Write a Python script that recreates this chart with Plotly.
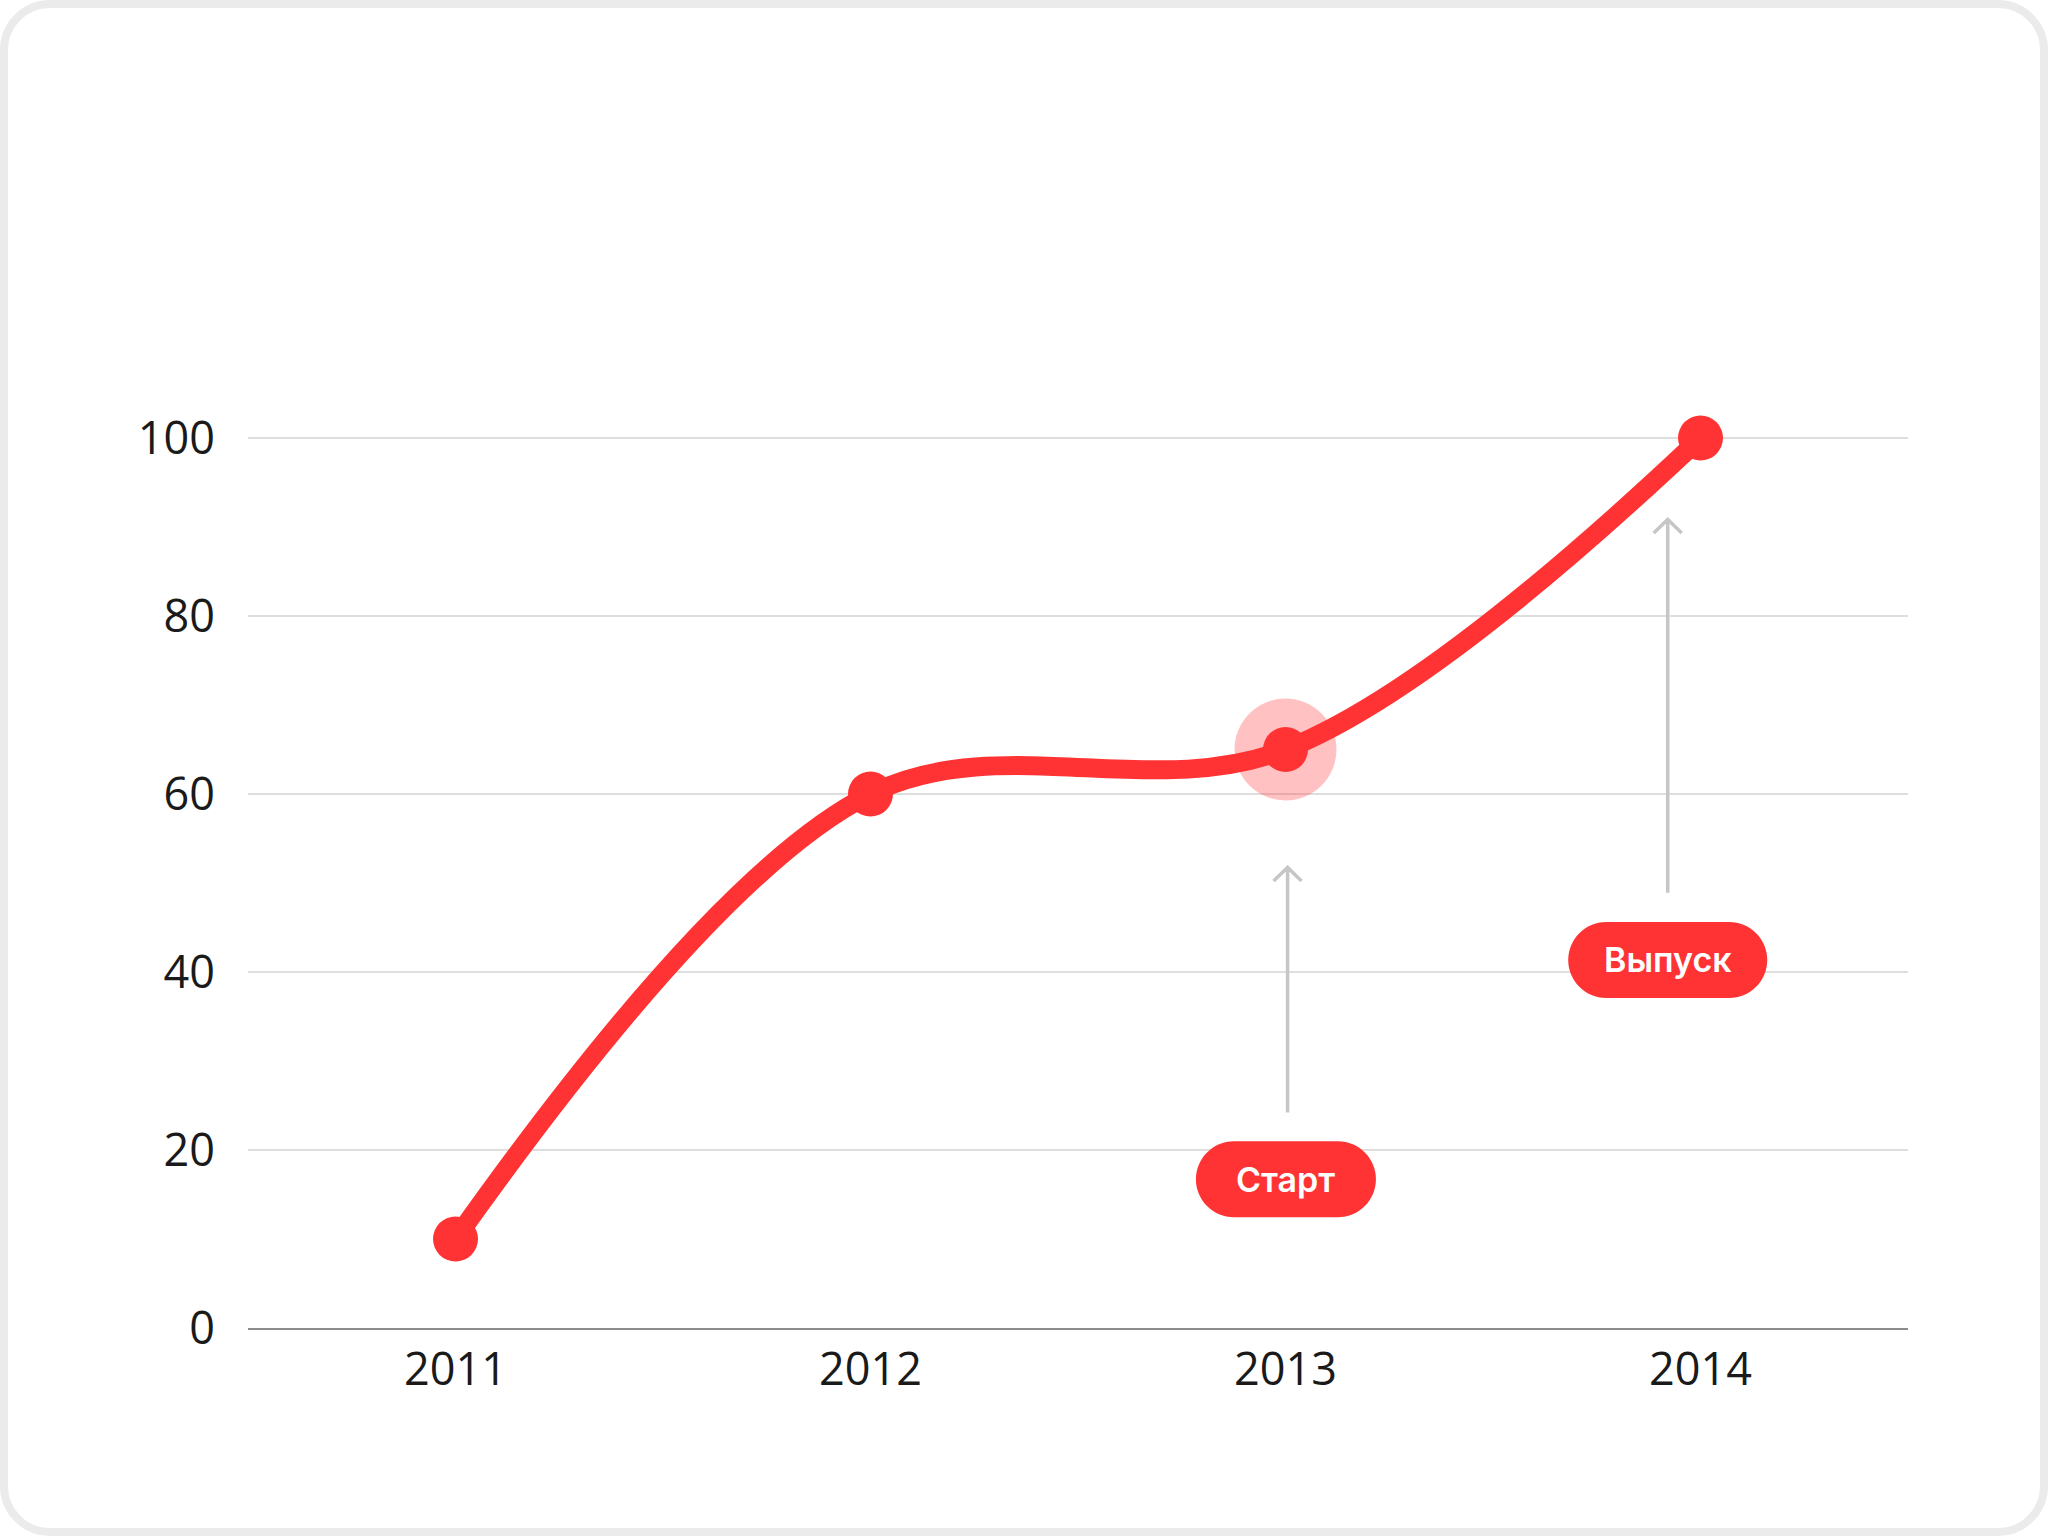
import plotly.graph_objects as go

# ---- data ----
years = ["2011", "2012", "2013", "2014"]
values = [10, 60, 65, 100]
y_ticks = [0, 20, 40, 60, 80, 100]
highlight_year = "2013"
highlight_value = 65
label_texts = ["Старт", "Выпуск"]

# ---- style / layout constants ----
W, H = 2048, 1536
ML, MR, MT, MB = 248, 140, 260, 208
RED = "#FF3333"
GRAY_ARROW = "#c6c6c6"

fig = go.Figure()

# halo under the line
fig.add_trace(go.Scatter(
    x=[highlight_year], y=[highlight_value], mode="markers",
    marker=dict(size=102, color="rgba(255,51,51,0.30)", line=dict(width=0)),
    hoverinfo="skip", cliponaxis=False, showlegend=False))

fig.add_trace(go.Scatter(
    x=years, y=values, mode="lines+markers",
    line=dict(color=RED, width=19, shape="spline", smoothing=1),
    marker=dict(size=45, color=RED, line=dict(width=0)),
    cliponaxis=False, showlegend=False))


def stadium(w, h):
    a = w / 2.0
    r = h / 2.0
    s = a - r
    k = 0.5523 * r
    return (f"M {-s},{-r} L {s},{-r} C {s + k},{-r} {a},{-k} {a},0 "
            f"C {a},{k} {s + k},{r} {s},{r} L {-s},{r} "
            f"C {-s - k},{r} {-a},{k} {-a},0 C {-a},{-k} {-s - k},{-r} {-s},{-r} Z")


def rounded_rect_px(x0, y0, x1, y1, rad):
    # page pixel coords (y down) -> offsets from plot bottom-left (y up)
    def p(X, Y):
        return f"{X - ML},{(H - MB) - Y}"
    k = 0.5523 * rad
    return (f"M {p(x0 + rad, y0)} L {p(x1 - rad, y0)} "
            f"C {p(x1 - rad + k, y0)} {p(x1, y0 + rad - k)} {p(x1, y0 + rad)} "
            f"L {p(x1, y1 - rad)} "
            f"C {p(x1, y1 - rad + k)} {p(x1 - rad + k, y1)} {p(x1 - rad, y1)} "
            f"L {p(x0 + rad, y1)} "
            f"C {p(x0 + rad - k, y1)} {p(x0, y1 - rad + k)} {p(x0, y1 - rad)} "
            f"L {p(x0, y0 + rad)} "
            f"C {p(x0, y0 + rad - k)} {p(x0 + rad - k, y0)} {p(x0 + rad, y0)} Z")


shapes = []
# card border
shapes.append(dict(type="path", xref="paper", yref="paper",
                   xsizemode="pixel", ysizemode="pixel", xanchor=0, yanchor=0,
                   path=rounded_rect_px(4, 4, W - 4, H - 4, 46),
                   line=dict(color="#ebebeb", width=8), fillcolor="rgba(0,0,0,0)",
                   layer="above"))

# arrows: (x index, tail y, tip y)
arrows = [(2.005, 24.2, 51.8), (2.921, 48.9, 90.9)]
for ax_, y_tail, y_tip in arrows:
    shapes.append(dict(type="line", xref="x", yref="y", x0=ax_, x1=ax_,
                       y0=y_tail, y1=y_tip, line=dict(color=GRAY_ARROW, width=3.5)))
    shapes.append(dict(type="path", xref="x", yref="y",
                       xsizemode="pixel", ysizemode="pixel", xanchor=ax_, yanchor=y_tip,
                       path="M -14,-14 L 0,-0.5 L 14,-14",
                       line=dict(color=GRAY_ARROW, width=3.5), fillcolor="rgba(0,0,0,0)"))

# pills: (x index, y center, width)
pills = [(2.001, 16.7, 180), (2.921, 41.35, 199)]
annotations = []
for (px_, py_, pw), txt in zip(pills, label_texts):
    shapes.append(dict(type="path", xref="x", yref="y",
                       xsizemode="pixel", ysizemode="pixel", xanchor=px_, yanchor=py_,
                       path=stadium(pw, 76), fillcolor=RED, line=dict(width=0)))
    annotations.append(dict(x=px_, y=py_, xref="x", yref="y", text=txt, showarrow=False,
                            font=dict(family="Inter", size=34, color="white", weight=600),
                            xanchor="center", yanchor="middle"))

fig.update_layout(
    width=W, height=H,
    margin=dict(l=ML, r=MR, t=MT, b=MB, pad=0),
    paper_bgcolor="white", plot_bgcolor="white",
    shapes=shapes, annotations=annotations,
    showlegend=False,
    xaxis=dict(type="category", categoryorder="array", categoryarray=years,
               range=[-0.5, 3.5], showgrid=False, zeroline=False,
               showline=True, linecolor="#8c8c8c", linewidth=2, ticks="",
               tickfont=dict(family="Open Sans", size=45, color="#1a1a1a"),
               ticklabelstandoff=1, fixedrange=True),
    yaxis=dict(range=[0, 120], tickmode="array", tickvals=y_ticks,
               showgrid=True, gridcolor="#dedede", gridwidth=2, zeroline=False,
               showline=False, ticks="",
               tickfont=dict(family="Open Sans", size=45, color="#1a1a1a"),
               ticklabelstandoff=32, fixedrange=True),
)

fig.write_html("out.html",
               config={"displayModeBar": False},
               post_script="document.body.style.margin='0';"
                           "document.body.style.overflow='hidden';"
                           "document.documentElement.style.overflow='hidden';")
